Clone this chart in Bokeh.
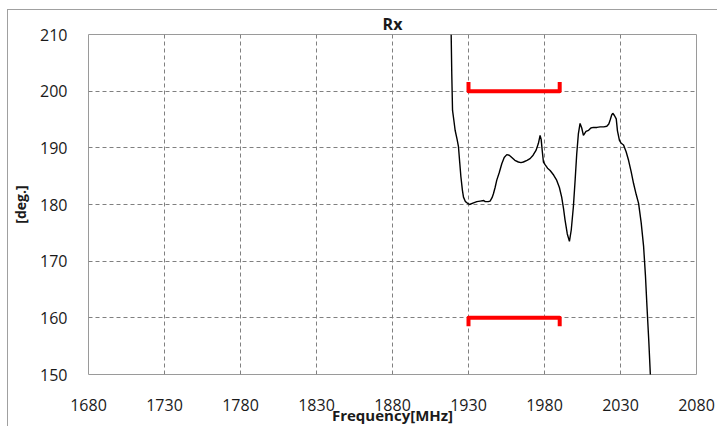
from bokeh.plotting import figure
from bokeh.models import FixedTicker, Range1d
from bokeh.embed import file_html
from bokeh.resources import INLINE

# ---- data ----
freq = [1918.6, 1919.0, 1919.5, 1920.3, 1921.2, 1922.5, 1923.4, 1924.2, 1925.0, 1926.0,
        1926.7, 1928.0, 1929.0, 1930.7, 1933.3, 1935.5, 1937.7, 1940.0, 1941.0, 1943.0,
        1944.2, 1945.5, 1946.4, 1947.5, 1948.6, 1950.2, 1951.9, 1953.5, 1955.2, 1956.8,
        1958.5, 1960.5, 1962.8, 1964.5, 1966.1, 1968.5, 1970.5, 1972.5, 1974.5, 1976.0,
        1977.1, 1977.8, 1978.5, 1979.3, 1980.5, 1982.0, 1983.7, 1986.0, 1988.0, 1989.8,
        1991.3, 1992.5, 1993.5, 1995.0, 1996.4, 1997.6, 1999.0, 2000.2, 2001.2, 2002.3,
        2003.4, 2004.5, 2005.6, 2007.3, 2009.0, 2010.5, 2012.2, 2014.5, 2016.6, 2019.0,
        2021.0, 2022.3, 2023.2, 2024.2, 2024.9, 2026.0, 2027.2, 2028.0, 2029.3, 2030.5,
        2032.0, 2033.7, 2035.3, 2037.0, 2038.6, 2040.3, 2041.9, 2043.6, 2045.2, 2046.4,
        2047.4, 2048.6, 2049.6, 2050.0]
phase = [210.0, 203.0, 196.6, 195.0, 193.1, 191.5, 190.2, 187.5, 184.9, 182.5,
         181.3, 180.5, 180.3, 180.0, 180.3, 180.5, 180.6, 180.7, 180.5, 180.5,
         180.6, 181.2, 181.9, 183.0, 184.3, 185.6, 187.2, 188.3, 188.8, 188.7,
         188.3, 187.8, 187.5, 187.4, 187.5, 187.8, 188.1, 188.7, 189.6, 190.8,
         192.2, 191.5, 189.5, 187.5, 187.0, 186.4, 186.0, 185.2, 184.3, 183.0,
         181.3, 179.3, 177.3, 174.8, 173.5, 175.5, 179.6, 184.5, 188.9, 192.5,
         194.3, 193.5, 192.2, 192.9, 193.1, 193.5, 193.6, 193.6, 193.7, 193.7,
         193.8, 194.2, 194.9, 195.8, 196.1, 195.7, 195.1, 193.0, 191.3, 190.8,
         190.5, 189.3, 187.8, 185.8, 183.7, 181.8, 180.2, 176.8, 172.6, 167.5,
         162.1, 156.0, 150.2, 148.0]

upper_bracket_x = [1930, 1930, 1990, 1990]
upper_bracket_y = [201.6, 200, 200, 201.6]
lower_bracket_x = [1930, 1930, 1990, 1990]
lower_bracket_y = [158.5, 160, 160, 158.5]

x_ticks = [1680, 1730, 1780, 1830, 1880, 1930, 1980, 2030, 2080]
y_ticks = [150, 160, 170, 180, 190, 200, 210]

title_text = "Rx"
x_label = "Frequency[MHz]"
y_label = "[deg.]"

# ---- figure ----
p = figure(width=710, height=417, output_backend="svg", toolbar_location=None,
           x_range=Range1d(1680, 2080), y_range=Range1d(150, 210),
           min_border_left=80, min_border_right=22, min_border_top=24, min_border_bottom=52,
           title=title_text)
p.styles = {"margin-left": "7px", "margin-top": "9px",
            "border-left": "1px solid #a0a0a0", "border-top": "1px solid #a0a0a0"}
p.background_fill_color = "white"
p.border_fill_color = "white"
p.outline_line_color = "#9a9a9a"
p.outline_line_width = 1

p.title.align = "center"
p.title.text_font = "Open Sans"
p.title.text_font_size = "16px"
p.title.text_font_style = "bold"
p.title.text_color = "#1a1a1a"
p.title.standoff = 0

for ax in (p.xaxis[0], p.yaxis[0]):
    ax.axis_line_color = None
    ax.major_tick_line_color = None
    ax.minor_tick_line_color = None
    ax.major_label_text_font = "Open Sans"
    ax.major_label_text_font_size = "16px"
    ax.major_label_text_color = "#1a1a1a"
    ax.axis_label_text_font = "Open Sans"
    ax.axis_label_text_font_style = "bold"
    ax.axis_label_text_color = "#1a1a1a"

p.xaxis.ticker = FixedTicker(ticks=x_ticks)
p.yaxis.ticker = FixedTicker(ticks=y_ticks)
p.xaxis.major_label_standoff = 18
p.yaxis.major_label_standoff = 15

p.xaxis.axis_label = x_label
p.xaxis.axis_label_text_font_size = "15px"
p.xaxis.axis_label_standoff = -9
p.yaxis.axis_label = y_label
p.yaxis.axis_label_text_font_size = "14px"
p.yaxis.axis_label_standoff = 7

p.xgrid.ticker = FixedTicker(ticks=x_ticks)
p.ygrid.ticker = FixedTicker(ticks=y_ticks)
for g in (p.xgrid[0], p.ygrid[0]):
    g.grid_line_color = "#808080"
    g.grid_line_dash = "4 3"
    g.grid_line_width = 1

p.line(freq, phase, line_color="black", line_width=1.4)
p.line(upper_bracket_x, upper_bracket_y, line_color="#ff0000", line_width=4, line_join="round")
p.line(lower_bracket_x, lower_bracket_y, line_color="#ff0000", line_width=4, line_join="round")

open("out.html", "w").write(file_html(p, INLINE))
